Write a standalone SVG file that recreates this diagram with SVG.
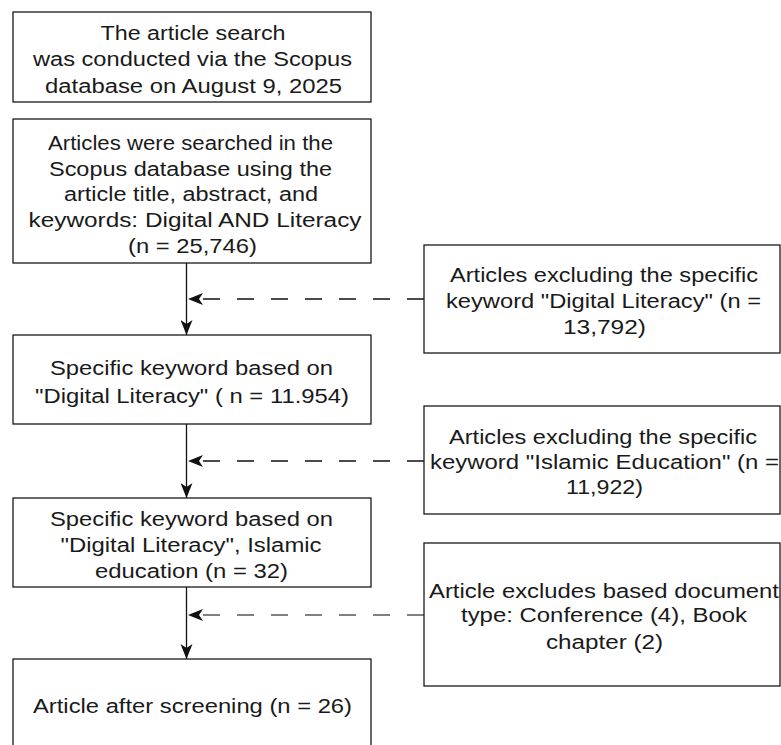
<svg xmlns="http://www.w3.org/2000/svg" width="781" height="745" viewBox="0 0 781 745">
<style>
.box{fill:#ffffff;stroke:#1a1a1a;stroke-width:1.3}
.t{font-family:"Liberation Sans",Arial,sans-serif;font-size:20px;fill:#1a1a1a;text-anchor:middle}
.solid{fill:none;stroke:#111;stroke-width:1.3}
.dash{fill:none;stroke:#111;stroke-width:1.3;stroke-dasharray:17 17}
.dashg{fill:none;stroke:#808080;stroke-width:2;stroke-dasharray:17 17}
</style>
<defs>
<marker id="arr" viewBox="0 0 15 12" refX="15" refY="6" markerWidth="15" markerHeight="12" markerUnits="userSpaceOnUse" orient="auto">
<path d="M0,0 L15,6 L0,12 L4,6 Z" fill="#111"/>
</marker>
</defs>
<rect width="781" height="745" fill="#ffffff"/>
<g id="connectors">
<path class="solid" d="M186.5,263 L186.5,335" marker-end="url(#arr)"/>
<path class="solid" d="M186.5,424 L186.5,498" marker-end="url(#arr)"/>
<path class="solid" d="M186.5,587 L186.5,659" marker-end="url(#arr)"/>
<path class="dash" d="M424,299 L188,299" marker-end="url(#arr)"/>
<path class="dash" d="M424,461 L188,461" marker-end="url(#arr)"/>
<path class="dashg" d="M424,615 L188,615" marker-end="url(#arr)"/>
</g>
<g id="n1">
<rect class="box" x="13" y="12" width="358" height="90"/>
<text class="t" x="193" y="39.5" textLength="185" lengthAdjust="spacingAndGlyphs">The article search</text>
<text class="t" x="192.5" y="66" textLength="319" lengthAdjust="spacingAndGlyphs">was conducted via the Scopus</text>
<text class="t" x="193.5" y="92.5" textLength="297" lengthAdjust="spacingAndGlyphs">database on August 9, 2025</text>
</g>
<g id="n2">
<rect class="box" x="13" y="119" width="358" height="144"/>
<text class="t" x="190.5" y="149.5" textLength="285" lengthAdjust="spacingAndGlyphs">Articles were searched in the</text>
<text class="t" x="190.5" y="175.5" textLength="283" lengthAdjust="spacingAndGlyphs">Scopus database using the</text>
<text class="t" x="191" y="200.5" textLength="254" lengthAdjust="spacingAndGlyphs">article title, abstract, and</text>
<text class="t" x="195" y="226.5" textLength="333" lengthAdjust="spacingAndGlyphs">keywords: Digital AND Literacy</text>
<text class="t" x="192.5" y="252.5" textLength="129" lengthAdjust="spacingAndGlyphs">(n = 25,746)</text>
</g>
<g id="n3">
<rect class="box" x="13" y="335" width="358" height="89"/>
<text class="t" x="191.5" y="374.5" textLength="283" lengthAdjust="spacingAndGlyphs">Specific keyword based on</text>
<text class="t" x="192" y="402.5" textLength="314" lengthAdjust="spacingAndGlyphs">"Digital Literacy" ( n = 11.954)</text>
</g>
<g id="n4">
<rect class="box" x="13" y="498" width="358" height="89"/>
<text class="t" x="191.5" y="525.5" textLength="283" lengthAdjust="spacingAndGlyphs">Specific keyword based on</text>
<text class="t" x="191" y="551.5" textLength="261" lengthAdjust="spacingAndGlyphs">"Digital Literacy", Islamic</text>
<text class="t" x="191.5" y="578" textLength="193" lengthAdjust="spacingAndGlyphs">education (n = 32)</text>
</g>
<g id="n5">
<rect class="box" x="13" y="659" width="358" height="100"/>
<text class="t" x="192.5" y="712.5" textLength="319" lengthAdjust="spacingAndGlyphs">Article after screening (n = 26)</text>
</g>
<g id="r1">
<rect class="box" x="424" y="245" width="356" height="108"/>
<text class="t" x="604" y="282" textLength="308" lengthAdjust="spacingAndGlyphs">Articles excluding the specific</text>
<text class="t" x="603.5" y="307.5" textLength="315" lengthAdjust="spacingAndGlyphs">keyword "Digital Literacy" (n =</text>
<text class="t" x="604.5" y="333.5" textLength="83" lengthAdjust="spacingAndGlyphs">13,792)</text>
</g>
<g id="r2">
<rect class="box" x="424" y="406" width="356" height="108"/>
<text class="t" x="603" y="443.5" textLength="308" lengthAdjust="spacingAndGlyphs">Articles excluding the specific</text>
<text class="t" x="604.5" y="468.5" textLength="349" lengthAdjust="spacingAndGlyphs">keyword "Islamic Education" (n =</text>
<text class="t" x="604.5" y="494" textLength="77" lengthAdjust="spacingAndGlyphs">11,922)</text>
</g>
<g id="r3">
<rect class="box" x="424" y="543" width="356" height="143"/>
<text class="t" x="604" y="597.5" textLength="350" lengthAdjust="spacingAndGlyphs">Article excludes based document</text>
<text class="t" x="604" y="622" textLength="286" lengthAdjust="spacingAndGlyphs">type: Conference (4), Book</text>
<text class="t" x="604.5" y="648.5" textLength="117" lengthAdjust="spacingAndGlyphs">chapter (2)</text>
</g>
</svg>
